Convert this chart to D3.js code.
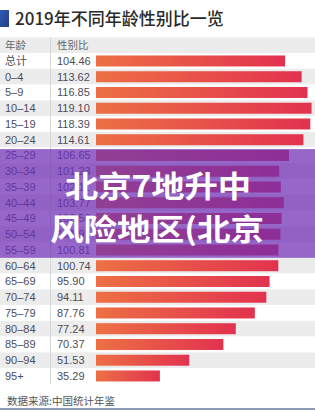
<!DOCTYPE html>
<html><head><meta charset="utf-8">
<script src="https://cdn.jsdelivr.net/npm/d3@7"></script>
<style>body{margin:0;background:#fff}svg{display:block}</style>
</head><body><svg id="c" width="315" height="410"></svg>
<script>
const title = "2019年不同年龄性别比一览";
const headers = ["年龄", "性别比"];
const categories = ["总计","0–4","5–9","10–14","15–19","20–24","25–29","30–34","35–39","40–44","45–49","50–54","55–59","60–64","65–69","70–74","75–79","80–84","85–89","90–94","95+"];
const values = [104.46,113.62,116.85,119.10,118.39,114.61,106.65,101.23,102.11,103.77,102.56,101.91,100.81,100.74,95.90,94.11,87.76,77.24,70.37,51.53,35.29];
const valueLabels = ["104.46","113.62","116.85","119.10","118.39","114.61","106.65","101.23","102.11","103.77","102.56","101.91","100.81","100.74","95.90","94.11","87.76","77.24","70.37","51.53","35.29"];
const source = "数据来源:中国统计年鉴";
const overlayLines = ["北京7地升中", "风险地区(北京"];

const W = 315, H = 410;
const svg = d3.select("#c");
const latin = "'Liberation Sans', 'Noto Sans CJK SC', sans-serif";
const cjk = "'Noto Sans CJK SC', sans-serif";

const defs = svg.append("defs");
const g1 = defs.append("linearGradient").attr("id","barGrad").attr("x1","0").attr("x2","1").attr("y1","0").attr("y2","0");
g1.append("stop").attr("offset","0").attr("stop-color","#ed7044");
g1.append("stop").attr("offset","1").attr("stop-color","#e2324f");
const g2 = defs.append("linearGradient").attr("id","sqGrad").attr("x1","0").attr("x2","1").attr("y1","0").attr("y2","1");
g2.append("stop").attr("offset","0").attr("stop-color","#2c5ab8");
g2.append("stop").attr("offset","1").attr("stop-color","#24407f");

// title
svg.append("rect").attr("x",0).attr("y",10).attr("width",9).attr("height",17).attr("fill","url(#sqGrad)");
svg.append("text").attr("x",15).attr("y",25).attr("font-family",cjk).attr("font-size",17)
  .attr("font-weight",500).attr("fill","#2a2a2a").text(title);

const rowH = 15.75;
const y = d3.scaleBand().domain(categories).range([53.1, 53.1 + rowH*categories.length]).padding(0);
const x = d3.scaleLinear().domain([0, 120]).range([96, 96 + 120*1.81]);

// header band
svg.append("rect").attr("x",0).attr("y",53.1-rowH).attr("width",W).attr("height",rowH).attr("fill","#ececec");
svg.append("text").attr("x",5).attr("y",49).attr("font-family",cjk).attr("font-size",10.5).attr("fill","#666").text(headers[0]);
svg.append("text").attr("x",57).attr("y",49).attr("font-family",cjk).attr("font-size",10.5).attr("fill","#666").text(headers[1]);

// row bands
svg.append("g").selectAll("rect").data(categories).join("rect")
  .attr("x",0).attr("y",d=>y(d)).attr("width",W).attr("height",y.bandwidth())
  .attr("fill",(d,i)=> i%2 ? "#ececec" : "#ffffff");

// divider
svg.append("line").attr("x1",50.5).attr("x2",50.5).attr("y1",53.1-rowH).attr("y2",y.range()[1])
  .attr("stroke","#d6d6d6").attr("stroke-width",1);

// bars
const bh = 11;
svg.append("g").selectAll("rect").data(values).join("rect")
  .attr("x",x(0)).attr("y",(d,i)=>y(categories[i]) + (y.bandwidth()-bh)/2)
  .attr("width",d=>x(d)-x(0)).attr("height",bh).attr("fill","url(#barGrad)");

// labels
svg.append("g").selectAll("text").data(categories).join("text")
  .attr("x",5).attr("y",d=>y(d)+y.bandwidth()/2+4)
  .attr("font-family",latin).attr("font-size",11).attr("fill","#4d4d5a").text(d=>d);
svg.append("g").selectAll("text").data(valueLabels).join("text")
  .attr("x",57).attr("y",(d,i)=>y(categories[i])+y.bandwidth()/2+4)
  .attr("font-family",latin).attr("font-size",11).attr("fill","#4d4d5a").text(d=>d);

// source
svg.append("text").attr("x",7).attr("y",405).attr("font-family",cjk).attr("font-size",10.5)
  .attr("fill","#555").text(source);
svg.append("rect").attr("x",0).attr("y",408).attr("width",W).attr("height",2).attr("fill","#8c9bb3");

// overlay
svg.append("rect").attr("x",0).attr("y",y(categories[6])+1.5).attr("width",W)
  .attr("height",y(categories[13]) - y(categories[6]) - 1.5)
  .attr("fill","#6e2db4").attr("opacity",0.72);
const ol = [{t:overlayLines[0], x:65, w:186, yb:197}, {t:overlayLines[1], x:50, w:214, yb:240}];
svg.append("g").selectAll("text").data(ol).join("text")
  .attr("x",d=>d.x).attr("y",d=>d.yb).attr("font-family",cjk).attr("font-weight",700)
  .attr("font-size",30).attr("fill","#ffffff")
  .attr("textLength",d=>d.w).attr("lengthAdjust","spacingAndGlyphs").text(d=>d.t);
</script></body></html>
